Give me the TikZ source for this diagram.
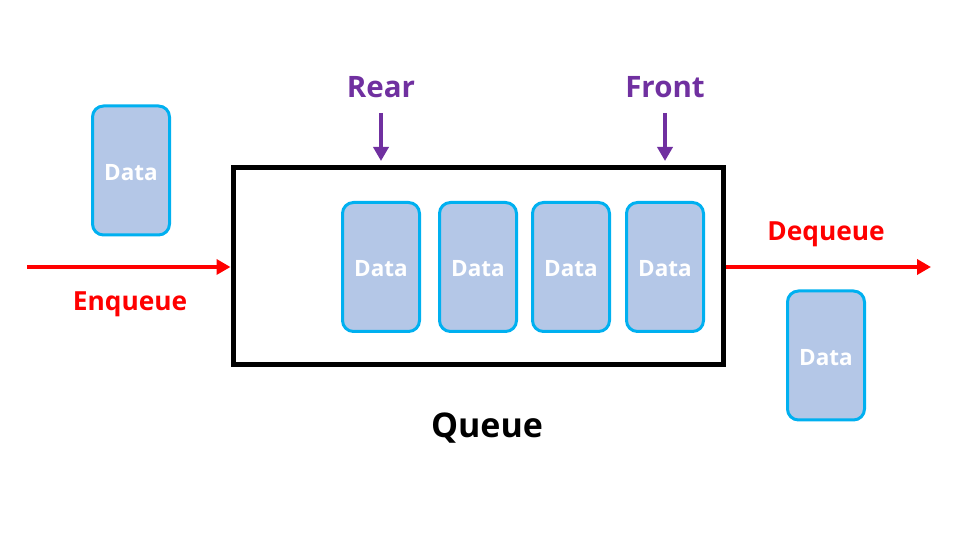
\documentclass[tikz,border=0pt]{standalone}
\usepackage{fontspec}
\setmainfont{Open Sans}
\usetikzlibrary{arrows.meta}
\definecolor{databorder}{HTML}{00B0F0}
\definecolor{datafill}{HTML}{B4C7E7}
\definecolor{purp}{HTML}{7030A0}
\definecolor{redd}{HTML}{FF0000}
\newcommand{\datatext}{\raisebox{-10pt}[0pt][0pt]{Data}}
\tikzset{
  databox/.style={draw=databorder, fill=datafill, line width=3pt, rounded corners=11pt,
    minimum width=77pt, minimum height=129pt, inner sep=0pt,
    text=white, font=\fontsize{22.5}{26}\selectfont\bfseries},
  queuebox/.style={draw=black, line width=5pt, minimum width=490pt, minimum height=197pt, inner sep=0pt},
  redarrow/.style={draw=redd, line width=3.5pt, -{Triangle[length=14pt,width=15pt]}},
  purparrow/.style={draw=purp, line width=3.5pt, -{Triangle[length=14pt,width=15pt]}},
  redlabel/.style={text=redd, font=\fontsize{26.3}{30}\selectfont\bfseries},
  purplabel/.style={text=purp, font=\fontsize{29.5}{34}\selectfont\bfseries},
}
\begin{document}
\begin{tikzpicture}[x=1pt,y=-1pt]
\useasboundingbox (0,0) rectangle (956,534);
\node[queuebox] (q) at (478,266.5) {};
\node[databox] (d0) at (131,170.5) {\datatext};
\node[databox] (d1) at (381,267) {\datatext};
\node[databox] (d2) at (478,267) {\datatext};
\node[databox] (d3) at (571,267) {\datatext};
\node[databox] (d4) at (665,267) {\datatext};
\node[databox] (d5) at (826,355.5) {\datatext};
\coordinate (enqs) at (27,267);
\coordinate (deqe) at (931,267);
\draw[redarrow] (enqs) -- (enqs -| q.west);
\draw[redarrow] (q.east |- deqe) -- (deqe);
\node[redlabel] (enq) at (130,304) {Enqueue};
\node[redlabel] (deq) at (826,234) {Dequeue};
\node[purplabel] (rear) at (381,87) {Rear};
\node[purplabel] (front) at (665,87) {Front};
\coordinate (reart) at (381,161);
\coordinate (frontt) at (665,161);
\draw[purparrow] (381,113) -- (reart);
\draw[purparrow] (665,113) -- (frontt);
\node[font=\fontsize{34}{40}\selectfont\bfseries] (qlabel) at (487,428) {Queue};
\end{tikzpicture}
\end{document}
